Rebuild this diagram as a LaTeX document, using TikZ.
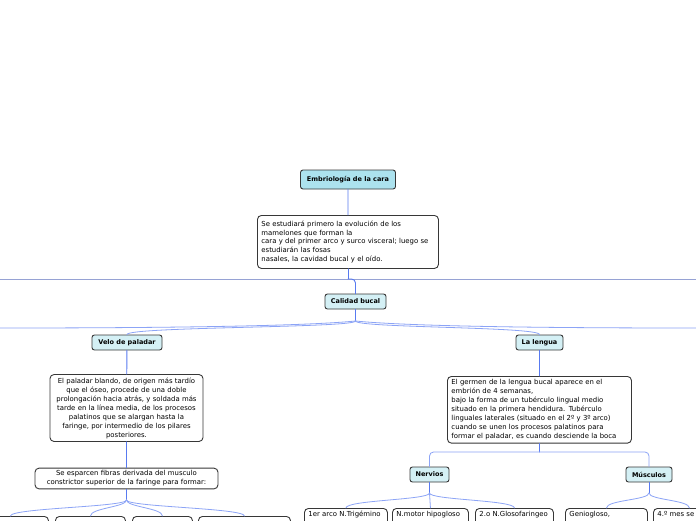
\documentclass[tikz,border=0pt]{standalone}
\usepackage{fontspec}
\setmainfont{DejaVu Sans}

\definecolor{boxline}{RGB}{55,55,55}
\definecolor{rootfill}{RGB}{172,226,238}
\definecolor{topicfill}{RGB}{212,240,245}
\definecolor{linkblue}{RGB}{88,122,240}
\definecolor{twigblue}{RGB}{140,164,246}
\definecolor{railgray}{RGB}{150,162,212}

\tikzset{
  topic/.style={draw=boxline, fill=topicfill, line width=0.9pt, rounded corners=2.5pt,
    font=\bfseries\fontsize{6.5}{8}\selectfont, inner sep=0pt, minimum height=15pt},
  note/.style={draw=boxline, fill=white, line width=0.9pt, rounded corners=4pt,
    font=\fontsize{6.9}{9}\selectfont, inner xsep=4pt, inner ysep=3pt},
  leaf/.style={note, anchor=north west, text width=#1, align=left,
    text height=5pt, text depth=24pt},
  link/.style={draw=linkblue, line width=0.9pt},
  twig/.style={draw=twigblue, line width=0.8pt},
  twigto/.style={to path={.. controls +(0,7) and +(0,-8) .. (\tikztotarget)}},
}

\begin{document}
\begin{tikzpicture}[x=1pt, y=-1pt, line cap=round, line join=round]

  \fill[white] (0,0) rectangle (696,520);

  %% ==== raiz y descripcion ====
  \node[topic, fill=rootfill, minimum width=95, minimum height=19] (embrio) at (348,179.5) {Embriología de la cara};
  \node[note, anchor=north west, text width=173pt, align=left, minimum height=53,
        font=\fontsize{6.9}{8.6}\selectfont] (intro) at (257,215)
    {Se estudiará primero la evolución de los\\mamelones que forman la\\cara y del primer arco y surco visceral; luego se\\estudiarán las fosas\\nasales, la cavidad bucal y el oído.};

  %% ==== barra horizontal y nodo central ====
  \coordinate (railL) at (0,279);
  \coordinate (railR) at (696,279);
  \node[topic, minimum width=61] (bucal) at (355.5,301.5) {Calidad bucal};

  %% ==== primer nivel ====
  \node[topic, minimum width=70] (velo) at (127,342.5) {Velo de paladar};
  \node[topic, minimum width=47] (lengua) at (539.5,342.5) {La lengua};
  \coordinate (bucalhub) at (355.5,321);
  \coordinate (offL) at (0,328);
  \coordinate (offR) at (696,328);

  %% ==== rama velo ====
  \node[note, text width=145pt, align=center] (velotxt) at (126.5,408)
    {El paladar blando, de origen más tardío\\que el óseo, procede de una doble\\prolongación hacia atrás, y soldada más\\tarde en la línea media, de los procesos\\palatinos que se alargan hasta la\\faringe, por intermedio de los pilares\\posteriores.};
  \node[note, text width=177pt, align=center, inner xsep=3pt, inner ysep=2.5pt] (fibras) at (126.5,478.5)
    {Se esparcen fibras derivada del musculo\\constrictor superior de la faringe para formar:};
  \coordinate (fibrashub) at (126.5,500);
  \node[leaf=68pt] (fib1) at (-28,516) {};
  \node[leaf=62pt] (fib2) at (55,516) {};
  \node[leaf=52pt] (fib3) at (132,516) {};
  \node[leaf=84pt] (fib4) at (198,516) {};

  %% ==== rama lengua ====
  \node[note, anchor=north west, text width=176pt, align=left] (lenguatxt) at (447,376)
    {El germen de la lengua bucal aparece en el\\embrión de 4 semanas,\\bajo la forma de un tubérculo lingual medio\\situado en la primera hendidura. Tubérculo\\linguales laterales (situado en el 2º y 3º arco)\\cuando se unen los procesos palatinos para\\formar el paladar, es cuando desciende la boca};
  \coordinate (lenguahub) at (539.5,452);
  \node[topic, minimum width=39] (nervios) at (429.5,474.5) {Nervios};
  \node[topic, minimum width=46] (musculos) at (649,474.5) {Músculos};
  \coordinate (nervhub) at (429.5,493);
  \coordinate (muschub) at (649,493);
  \node[leaf=75pt] (trigemino) at (304,508) {1er arco N.Trigémino};
  \node[leaf=68pt] (hipogloso) at (392,508) {N.motor hipogloso};
  \node[leaf=70pt] (glosofar) at (475,508) {2.o N.Glosofaringeo};
  \node[leaf=74pt] (genio) at (565,508) {Geniogloso,};
  \node[leaf=64pt] (cuarto) at (653,508) {4.º mes se};

  %% ==== conectores ====
  \draw[link] (embrio) -- (intro);
  \draw[link] (intro.south) -- (intro.south |- railL);
  \draw[railgray, line width=0.7pt] (railL) -- (railR);
  \draw[link, rounded corners=4pt] (intro.south |- railL) -| (bucal.north);
  \draw[link] (bucal.south) -- (bucalhub);
  \draw[twig] (bucalhub) .. controls +(-60,6) and +(120,0) .. (offL);
  \draw[twig] (bucalhub) .. controls +(60,6) and +(-120,0) .. (offR);
  \draw[twig] (bucalhub) to[twigto] (velo.north);
  \draw[twig] (bucalhub) to[twigto] (lengua.north);

  \draw[link] (velo) -- (velotxt);
  \draw[link] (velotxt) -- (fibras);
  \draw[link] (fibras.south) -- (fibrashub);
  \foreach \b in {fib1,fib2,fib3,fib4}
    \draw[twig] (fibrashub) to[twigto] (\b.north);

  \draw[link] (lengua) -- (lenguatxt.north -| lengua);
  \draw[link] (lenguatxt.south -| lengua) -- (lenguahub);
  \draw[twig, rounded corners=4pt] (lenguahub) -| (nervios.north);
  \draw[twig, rounded corners=4pt] (lenguahub) -| (musculos.north);
  \draw[link] (nervios.south) -- (nervhub);
  \draw[link] (musculos.south) -- (muschub);
  \foreach \b in {trigemino,hipogloso,glosofar}
    \draw[twig] (nervhub) to[twigto] (\b.north);
  \foreach \b in {genio,cuarto}
    \draw[twig] (muschub) to[twigto] (\b.north);

  % canvas fijo
  \pgfresetboundingbox
  \path[use as bounding box] (0,0) rectangle (696,520);
\end{tikzpicture}
\end{document}
